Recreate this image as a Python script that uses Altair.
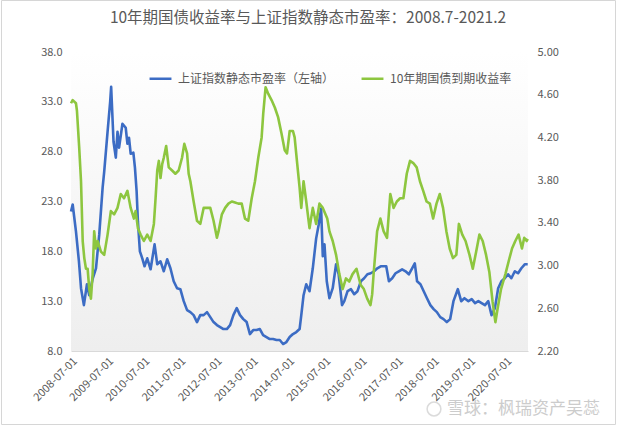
import altair as alt
import pandas as pd

series_names = ["上证指数静态市盈率（左轴）", "10年期国债到期收益率"]
title_text = "10年期国债收益率与上证指数静态市盈率：2008.7-2021.2"
watermark_text = "雪球：枫瑞资产吴蕊"

x_tick_dates = ["2008-07-01", "2009-07-01", "2010-07-01", "2011-07-01", "2012-07-01",
                "2013-07-01", "2014-07-01", "2015-07-01", "2016-07-01", "2017-07-01",
                "2018-07-01", "2019-07-01", "2020-07-01"]
left_ticks = [8, 13, 18, 23, 28, 33, 38]
right_ticks = [2.2, 2.6, 3.0, 3.4, 3.8, 4.2, 4.6, 5.0]

pe_dates = [
    "2008-07-01", "2008-07-18", "2008-08-20", "2008-09-19", "2008-10-10", "2008-11-08",
    "2008-12-09", "2009-01-01", "2009-02-06", "2009-03-10", "2009-04-12", "2009-05-16",
    "2009-06-01", "2009-07-05", "2009-07-31", "2009-08-10", "2009-09-03", "2009-09-26",
    "2009-10-13", "2009-10-29", "2009-12-02", "2010-01-04", "2010-01-21", "2010-02-06",
    "2010-02-23", "2010-03-22", "2010-04-07", "2010-04-24", "2010-05-07", "2010-05-27",
    "2010-06-20", "2010-07-13", "2010-08-09", "2010-09-12", "2010-10-22", "2010-11-18",
    "2010-12-21", "2011-01-23", "2011-02-26", "2011-03-31", "2011-05-03", "2011-06-06",
    "2011-07-09", "2011-08-12", "2011-09-15", "2011-10-18", "2011-11-20", "2011-12-24",
    "2012-01-26", "2012-02-29", "2012-04-03", "2012-05-06", "2012-06-08", "2012-07-12",
    "2012-08-14", "2012-09-16", "2012-10-20", "2012-11-22", "2012-12-25", "2013-01-28",
    "2013-03-02", "2013-04-04", "2013-05-08", "2013-06-10", "2013-07-13", "2013-08-16",
    "2013-09-18", "2013-10-21", "2013-11-24", "2013-12-27", "2014-01-29", "2014-03-05",
    "2014-04-07", "2014-05-10", "2014-06-13", "2014-07-16", "2014-08-18", "2014-09-21",
    "2014-10-24", "2014-11-10", "2014-12-03", "2014-12-30", "2015-02-01", "2015-03-06",
    "2015-04-09", "2015-05-05", "2015-05-29", "2015-06-15", "2015-07-02", "2015-07-25",
    "2015-08-21", "2015-09-23", "2015-10-27", "2015-11-22", "2015-12-26", "2016-01-18",
    "2016-02-20", "2016-03-25", "2016-04-27", "2016-05-30", "2016-07-03", "2016-08-05",
    "2016-09-07", "2016-10-11", "2016-11-13", "2016-12-16", "2017-01-19", "2017-02-21",
    "2017-03-16", "2017-04-12", "2017-05-15", "2017-06-18", "2017-07-21", "2017-08-23",
    "2017-09-27", "2017-10-30", "2017-12-02", "2017-12-29", "2018-01-21", "2018-02-24",
    "2018-03-29", "2018-05-01", "2018-06-04", "2018-07-07", "2018-08-09", "2018-09-12",
    "2018-10-15", "2018-11-17", "2018-12-21", "2019-01-23", "2019-03-08", "2019-04-11",
    "2019-05-14", "2019-06-23", "2019-07-26", "2019-08-29", "2019-10-01", "2019-11-03",
    "2019-12-07", "2020-01-09", "2020-02-11", "2020-03-16", "2020-04-18", "2020-05-21",
    "2020-06-24", "2020-07-27", "2020-08-29", "2020-10-03", "2020-11-05", "2020-12-08",
    "2021-01-11", "2021-02-10",
]
pe_values = [
    22.0, 22.7, 20.0, 17.0, 14.3, 12.6,
    14.7, 13.6, 15.3, 16.3, 19.7, 24.4,
    26.0, 30.0, 33.0, 34.5, 29.0, 27.4,
    30.0, 28.4, 30.8, 30.4, 28.8, 29.4,
    27.8, 27.9, 26.4, 24.0, 21.0, 18.0,
    17.3, 16.5, 17.3, 16.2, 18.7, 16.7,
    17.0, 16.0, 17.2, 16.3, 15.0, 14.3,
    14.2, 13.0, 12.1, 11.9, 11.6, 10.9,
    11.6, 11.6, 11.9, 11.4, 10.9, 10.6,
    10.4, 10.2, 10.2, 10.6, 11.6, 12.3,
    11.6, 11.2, 10.9, 9.7, 10.1, 10.1,
    10.2, 9.6, 9.4, 9.2, 9.2, 9.1,
    9.1, 8.7, 8.9, 9.4, 9.7, 9.9,
    10.2, 11.6, 13.6, 14.7, 14.0, 16.3,
    19.3, 20.7, 22.3, 17.5, 18.7, 15.0,
    13.3, 14.3, 16.7, 15.7, 12.6, 13.0,
    14.0, 14.2, 13.7, 14.0, 15.0, 15.3,
    15.7, 15.8, 16.0, 16.3, 16.5, 16.5,
    16.5, 15.0, 15.3, 15.8, 16.0, 16.2,
    16.0, 15.7, 16.3, 16.8, 15.0, 14.7,
    14.0, 13.3, 12.6, 12.2, 11.9, 11.4,
    11.2, 10.9, 11.2, 13.0, 14.2, 13.0,
    13.3, 13.0, 13.2, 12.8, 13.0, 12.8,
    12.6, 13.0, 11.6, 12.3, 14.3, 15.0,
    15.3, 15.7, 15.3, 16.0, 15.8, 16.3,
    16.7, 16.7,
]

yld_dates = [
    "2008-07-01", "2008-07-18", "2008-08-20", "2008-08-30", "2008-09-22", "2008-10-10",
    "2008-10-27", "2008-11-12", "2008-11-29", "2008-12-16", "2009-01-01", "2009-01-18",
    "2009-02-04", "2009-02-20", "2009-03-10", "2009-03-27", "2009-04-29", "2009-06-01",
    "2009-07-05", "2009-08-07", "2009-09-09", "2009-10-13", "2009-11-15", "2009-12-18",
    "2010-01-21", "2010-02-23", "2010-03-28", "2010-04-14", "2010-05-07", "2010-06-03",
    "2010-07-06", "2010-08-09", "2010-09-12", "2010-10-15", "2010-11-01", "2010-11-18",
    "2010-12-04", "2010-12-21", "2011-01-07", "2011-01-23", "2011-02-16", "2011-03-14",
    "2011-04-17", "2011-05-20", "2011-06-22", "2011-07-26", "2011-08-18", "2011-09-15",
    "2011-10-01", "2011-10-18", "2011-11-20", "2011-12-24", "2012-01-26", "2012-02-29",
    "2012-04-03", "2012-05-06", "2012-06-08", "2012-07-12", "2012-07-28", "2012-08-31",
    "2012-10-03", "2012-11-05", "2012-12-09", "2013-01-11", "2013-02-13", "2013-03-19",
    "2013-04-21", "2013-05-24", "2013-06-28", "2013-07-31", "2013-09-02", "2013-10-06",
    "2013-10-22", "2013-11-15", "2013-12-11", "2014-01-14", "2014-02-16", "2014-03-21",
    "2014-04-24", "2014-05-27", "2014-06-19", "2014-07-16", "2014-08-18", "2014-09-04",
    "2014-09-27", "2014-10-24", "2014-11-10", "2014-12-03", "2014-12-30", "2015-02-01",
    "2015-03-06", "2015-04-09", "2015-05-12", "2015-06-15", "2015-07-30", "2015-08-21",
    "2015-09-23", "2015-10-27", "2015-11-29", "2016-01-01", "2016-02-04", "2016-03-08",
    "2016-04-10", "2016-05-20", "2016-06-30", "2016-08-02", "2016-09-05", "2016-10-08",
    "2016-10-25", "2016-11-10", "2016-12-14", "2017-01-16", "2017-02-18", "2017-03-24",
    "2017-04-26", "2017-05-29", "2017-07-01", "2017-08-03", "2017-09-05", "2017-10-09",
    "2017-11-11", "2017-12-14", "2018-01-17", "2018-02-19", "2018-03-24", "2018-04-27",
    "2018-05-30", "2018-07-02", "2018-08-05", "2018-09-07", "2018-10-10", "2018-11-13",
    "2018-12-16", "2019-01-18", "2019-02-21", "2019-03-19", "2019-04-22", "2019-05-25",
    "2019-07-04", "2019-08-06", "2019-09-09", "2019-10-12", "2019-11-14", "2019-12-18",
    "2020-01-20", "2020-02-22", "2020-03-21", "2020-04-13", "2020-05-17", "2020-06-30",
    "2020-08-02", "2020-09-05", "2020-10-08", "2020-11-10", "2020-12-14", "2021-01-06",
    "2021-01-31", "2021-02-10",
]
yld_values = [
    4.52, 4.55, 4.52, 4.45, 4.10, 3.79,
    3.23, 3.07, 2.97, 2.97, 2.78, 2.69,
    2.92, 3.32, 3.16, 3.23, 3.13, 3.10,
    3.29, 3.51, 3.48, 3.54, 3.67, 3.63,
    3.70, 3.54, 3.44, 3.51, 3.35, 3.29,
    3.23, 3.29, 3.23, 3.39, 3.63, 3.89,
    3.98, 3.82, 3.95, 4.01, 4.12, 3.92,
    3.89, 3.86, 3.89, 4.01, 4.14, 4.05,
    3.86, 3.79, 3.60, 3.42, 3.39, 3.54,
    3.54, 3.54, 3.42, 3.26, 3.32, 3.48,
    3.54, 3.58, 3.60, 3.59, 3.58, 3.58,
    3.44, 3.42, 3.63, 3.79, 4.01, 4.20,
    4.42, 4.67, 4.61, 4.55, 4.48, 4.39,
    4.24, 4.08, 4.05, 4.26, 4.26, 4.20,
    3.98, 3.73, 3.54, 3.79, 3.60, 3.35,
    3.54, 3.39, 3.58, 3.54, 3.44, 3.32,
    3.23, 3.10, 2.92, 2.78, 2.88, 2.85,
    2.92, 2.97, 2.82, 2.78, 2.69, 2.63,
    2.73, 2.94, 3.32, 3.44, 3.32, 3.26,
    3.67, 3.54, 3.60, 3.63, 3.63, 3.86,
    3.98, 3.96, 3.92, 3.79, 3.70, 3.60,
    3.58, 3.44, 3.58, 3.67, 3.54, 3.32,
    3.16, 3.07, 3.10, 3.39, 3.29, 3.23,
    3.10, 2.97, 3.13, 3.29, 3.23, 3.10,
    2.94, 2.66, 2.47, 2.60, 2.78, 2.92,
    3.04, 3.16, 3.23, 3.29, 3.16, 3.26,
    3.23, 3.25,
]

pe_df = pd.DataFrame({"date": pe_dates, "value": pe_values, "series": series_names[0]})
yld_df = pd.DataFrame({"date": yld_dates, "value": yld_values, "series": series_names[1]})
one = pd.DataFrame({"k": [0]})

# layout (pixels)
LEFT, TOP, W, H = 71, 52, 457, 299
TOTAL_W, TOTAL_H = 618, 427
FONT = "Noto Sans CJK SC"
GRAY = "#595959"
BLUE = "#3C6CC4"
GREEN = "#8DC63F"


def dt(s):
    y, m, d = (int(p) for p in s.split("-"))
    return alt.DateTime(year=y, month=m, date=d, utc=True)


x_enc = alt.X(
    "date:T",
    scale=alt.Scale(type="utc", domain=[dt("2008-07-01"), dt("2021-02-13")]),
    axis=alt.Axis(
        values=[dt(d) for d in x_tick_dates], format="%Y-%m-%d", labelAngle=-45,
        domain=True, domainColor="#d9d9d9", domainWidth=1, ticks=False, grid=False,
        labelColor=GRAY, labelFont=FONT, labelFontSize=11, labelPadding=4,
        title=None, labelOverlap=False,
    ),
)

color_enc = alt.Color(
    "series:N",
    scale=alt.Scale(domain=series_names, range=[BLUE, GREEN]),
    legend=alt.Legend(
        orient="none", legendX=77, legendY=14, direction="horizontal", title=None,
        symbolType="stroke", symbolSize=480, symbolStrokeWidth=2.5,
        labelFont=FONT, labelFontSize=12, labelColor=GRAY, columnPadding=21,
        labelOffset=5,
    ),
)

bg = alt.Chart(one).mark_rect(
    fill=alt.Gradient(
        gradient="linear", x1=0, x2=0, y1=0, y2=1,
        stops=[alt.GradientStop(color="#ffffff", offset=0),
               alt.GradientStop(color="#eeeeee", offset=1)],
    )
).encode(x=alt.value(0), x2=alt.value(W), y=alt.value(0), y2=alt.value(H))

border = alt.Chart(one).mark_rect(fillOpacity=0, stroke="#d6d6d6", strokeWidth=1).encode(
    x=alt.value(1.5 - LEFT), x2=alt.value(615.5 - LEFT),
    y=alt.value(0.5 - TOP), y2=alt.value(424.5 - TOP),
)

pe_line = alt.Chart(pe_df).mark_line(strokeWidth=2.6, strokeJoin="round").encode(
    x=x_enc,
    y=alt.Y("value:Q", scale=alt.Scale(domain=[8, 38], nice=False, zero=False),
            axis=alt.Axis(orient="left", values=left_ticks, format=".1f", domain=False,
                          ticks=False, grid=False, labelColor=GRAY, labelFont=FONT,
                          labelFontSize=11, labelPadding=9, title=None)),
    color=color_enc,
)

yld_line = alt.Chart(yld_df).mark_line(strokeWidth=2.6, strokeJoin="round").encode(
    x=x_enc,
    y=alt.Y("value:Q", scale=alt.Scale(domain=[2.2, 5.0], nice=False, zero=False),
            axis=alt.Axis(orient="right", values=right_ticks, format=".2f", domain=False,
                          ticks=False, grid=False, labelColor=GRAY, labelFont=FONT,
                          labelFontSize=11, labelPadding=9, title=None)),
    color=color_enc,
)

title = alt.Chart(one).mark_text(
    text=title_text, font=FONT, fontSize=15.5, color=GRAY, align="center", baseline="middle"
).encode(x=alt.value(308 - LEFT), y=alt.value(18 - TOP))

wm_logo = alt.Chart(one).mark_point(
    shape="circle", size=190, filled=False, stroke="#cccccc", strokeWidth=1.5
).encode(x=alt.value(434 - LEFT), y=alt.value(409 - TOP))

watermark = alt.Chart(one).mark_text(
    text=watermark_text, font=FONT, fontSize=17, color="#cccccc", align="left",
    baseline="middle"
).encode(x=alt.value(447 - LEFT), y=alt.value(409 - TOP))

chart = alt.layer(bg, border, pe_line, yld_line, title, wm_logo, watermark).resolve_scale(
    y="independent"
).properties(
    width=W, height=H,
    autosize=alt.AutoSizeParams(type="none"),
    padding={"left": LEFT, "top": TOP, "right": TOTAL_W - LEFT - W, "bottom": TOTAL_H - TOP - H},
    background="white",
).configure_view(strokeWidth=0)

chart.save("out.html", embed_options={"renderer": "svg", "actions": False})
